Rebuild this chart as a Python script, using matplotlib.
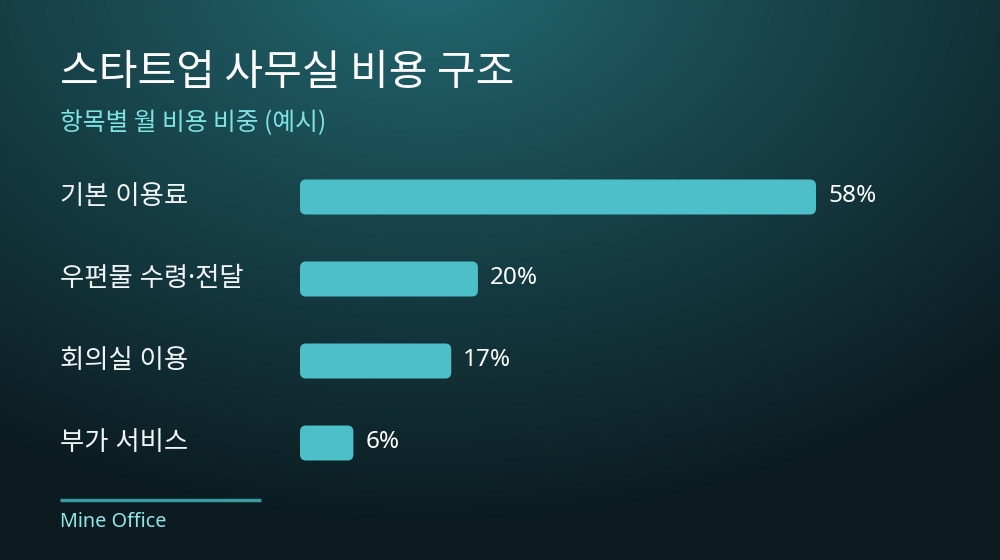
import numpy as np
import matplotlib
matplotlib.use("Agg")
from matplotlib import pyplot as plt
from matplotlib.patches import FancyBboxPatch
from matplotlib import transforms

plt.rcParams['font.family'] = ['Noto Sans CJK KR', 'DejaVu Sans']
latin_first = ['Noto Sans', 'Noto Sans CJK KR', 'DejaVu Sans']

# 데이터
categories = ["기본 이용료", "우편물 수령·전달", "회의실 이용", "부가 서비스"]
values = [58, 20, 17, 6]
title = "스타트업 사무실 비용 구조"
subtitle = "항목별 월 비용 비중 (예시)"
source = "Mine Office"

W, H = 1000, 560
fig = plt.figure(figsize=(10, 5.6), dpi=100)

# 배경 그라디언트
bg = fig.add_axes([0, 0, 1, 1])
yy, xx = np.mgrid[0:H, 0:W]
d = np.sqrt(((xx - 430) / 820.0) ** 2 + ((yy + 30) / 560.0) ** 2)
d = np.clip(d, 0, 1) ** 0.9
c0 = np.array([0x24, 0x6b, 0x74]) / 255
c1 = np.array([0x0b, 0x1b, 0x20]) / 255
img = c0[None, None, :] * (1 - d[..., None]) + c1[None, None, :] * d[..., None]
bg.imshow(img, extent=[0, W, H, 0], aspect='auto', interpolation='bilinear')
bg.set_xlim(0, W)
bg.set_ylim(H, 0)
bg.axis('off')

# 막대 영역
px_per_unit = 516 / 58
ax_left, ax_right = 300, 900
ax_top, ax_bot = 156, 484
ax = fig.add_axes([ax_left / W, 1 - ax_bot / H, (ax_right - ax_left) / W, (ax_bot - ax_top) / H])
ax.set_xlim(0, (ax_right - ax_left) / px_per_unit)
ax.set_ylim(len(categories) - 0.5, -0.5)
ax.axis('off')
ax.patch.set_alpha(0)

px_per_cat = (ax_bot - ax_top) / len(categories)
bar_h = 35 / px_per_cat
r = 6 / px_per_unit
for i, v in enumerate(values):
    p = FancyBboxPatch((0, i - bar_h / 2), v, bar_h,
                       boxstyle=f"round,pad=0,rounding_size={r}",
                       mutation_aspect=px_per_unit / px_per_cat,
                       fc="#4cbfc8", ec="none")
    ax.add_patch(p)
    ax.text(v + 12 / px_per_unit, i - 0.01, f"{v}%", va='center', ha='left',
            color='white', fontsize=17.5, family=latin_first)

# 항목 라벨
tr = transforms.blended_transform_factory(fig.transFigure, ax.transData)
for i, c in enumerate(categories):
    ax.text(60 / W, i, c, transform=tr, va='center', ha='left',
            color='#f2f5f5', fontsize=19, family=latin_first)

fig.text(60 / W, 1 - 73 / H, title, color='white', fontsize=30.3,
         fontweight='medium', va='center', ha='left')
fig.text(60 / W, 1 - 123 / H, subtitle, color='#7fe3e3', fontsize=17.8,
         va='center', ha='left')

# 하단 라인과 출처
bg.plot([60, 261], [500, 500], color='#3a9aa0', lw=2.5, solid_capstyle='butt')
fig.text(60 / W, 1 - 522 / H, source, color='#8fe6e6', fontsize=14.3,
         va='center', ha='left', family=latin_first)

fig.savefig("out.png", dpi=100)
